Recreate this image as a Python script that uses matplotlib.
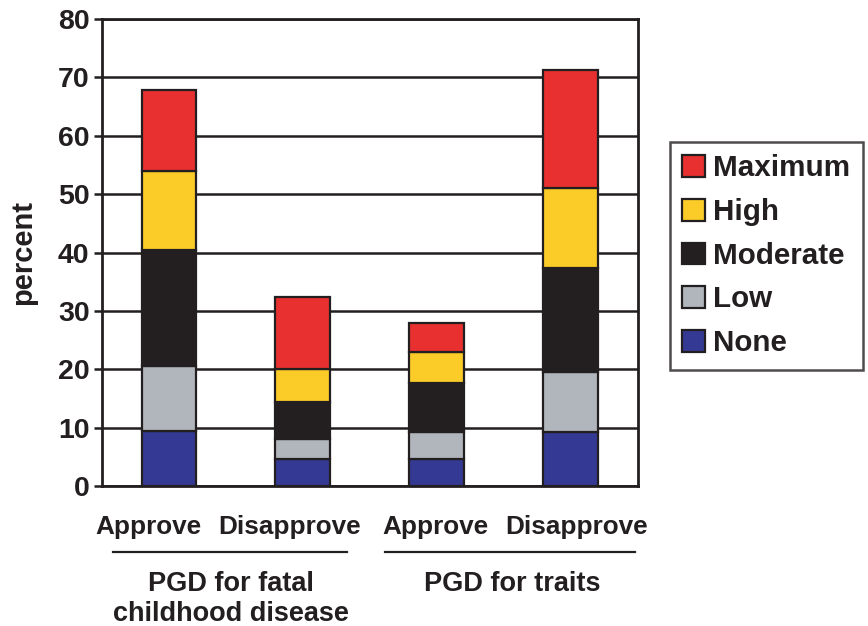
import matplotlib
matplotlib.use("Agg")
import matplotlib.pyplot as plt
from matplotlib.patches import Patch
import matplotlib.transforms as mtransforms

plt.rcParams['font.family'] = ['Liberation Sans', 'DejaVu Sans']
plt.rcParams['font.weight'] = 'bold'

categories = ["Approve", "Disapprove", "Approve", "Disapprove"]
groups = ["PGD for fatal\nchildhood disease", "PGD for traits"]
levels = ["None", "Low", "Moderate", "High", "Maximum"]
none_vals = [9.4, 4.7, 4.7, 9.3]
low_vals = [11.2, 3.4, 4.5, 10.3]
moderate_vals = [19.8, 6.3, 8.4, 17.7]
high_vals = [13.5, 5.7, 5.3, 13.8]
maximum_vals = [13.9, 12.3, 5.1, 20.2]
yticks = [0, 10, 20, 30, 40, 50, 60, 70, 80]

colors = {"None": "#343A94", "Low": "#B1B6BC", "Moderate": "#231F20",
          "High": "#FBCB27", "Maximum": "#E93030"}
series = {"None": none_vals, "Low": low_vals, "Moderate": moderate_vals,
          "High": high_vals, "Maximum": maximum_vals}

fig = plt.figure(figsize=(8.68, 6.26), dpi=100)
ax = fig.add_axes([0.1175, 0.2236, 0.6172, 0.746])

x = list(range(len(categories)))
bottom = [0.0] * len(categories)
for lev in levels:
    vals = series[lev]
    ax.bar(x, vals, bottom=bottom, width=0.41, color=colors[lev],
           edgecolor="#231F20", linewidth=1.6, zorder=3)
    bottom = [b + v for b, v in zip(bottom, vals)]

ax.set_xlim(-0.5, 3.5)
ax.set_ylim(0, 80)
ax.set_yticks(yticks)
ax.set_yticklabels([str(t) for t in yticks], fontsize=20.5, fontweight='bold',
                   color="#231F20")
ax.yaxis.grid(True, color="#231F20", linewidth=1.8, zorder=0)
ax.set_axisbelow(True)
ax.tick_params(axis='y', length=6, width=1.8, color="#231F20", pad=3)
ax.set_xticks([])
for s in ax.spines.values():
    s.set_linewidth(2.0)
    s.set_color("#231F20")

ax.set_ylabel("percent", fontsize=21, fontweight='bold', color="#231F20")
ax.yaxis.set_label_coords(-0.122, 0.5)

trans = mtransforms.blended_transform_factory(ax.transData, fig.transFigure)
label_x = [-0.15, 0.9, 1.99, 3.04]
for lx, cat in zip(label_x, categories):
    ax.text(lx, 1 - 527 / 626, cat, transform=trans, ha='center', va='center',
            fontsize=18.8, fontweight='bold', color="#231F20")

line_spans = [(-0.42, 1.33), (1.61, 3.48)]
group_x = [0.46, 2.56]
for (x0, x1), gx, g in zip(line_spans, group_x, groups):
    ax.plot([x0, x1], [1 - 552 / 626] * 2, transform=trans, color="#231F20",
            linewidth=1.6, clip_on=False)
    ax.text(gx, 1 - 571 / 626, g, transform=trans, ha='center', va='top',
            fontsize=19.5, fontweight='bold', color="#231F20", linespacing=1.22)

handles = [Patch(facecolor=colors[l], edgecolor="#231F20", linewidth=1.6, label=l)
           for l in reversed(levels)]
leg = fig.legend(handles=handles, loc='upper left',
                 bbox_to_anchor=(670 / 868, 1 - 142 / 626),
                 prop={'size': 21.3, 'weight': 'bold'}, frameon=True,
                 fancybox=False, handlelength=0.75, handleheight=0.75,
                 handletextpad=0.3, labelspacing=0.53, borderpad=0.42,
                 borderaxespad=0)
leg.get_frame().set_edgecolor("#231F20")
leg.get_frame().set_linewidth(1.8)
for t in leg.get_texts():
    t.set_color("#231F20")

fig.savefig("out.png", dpi=100)
